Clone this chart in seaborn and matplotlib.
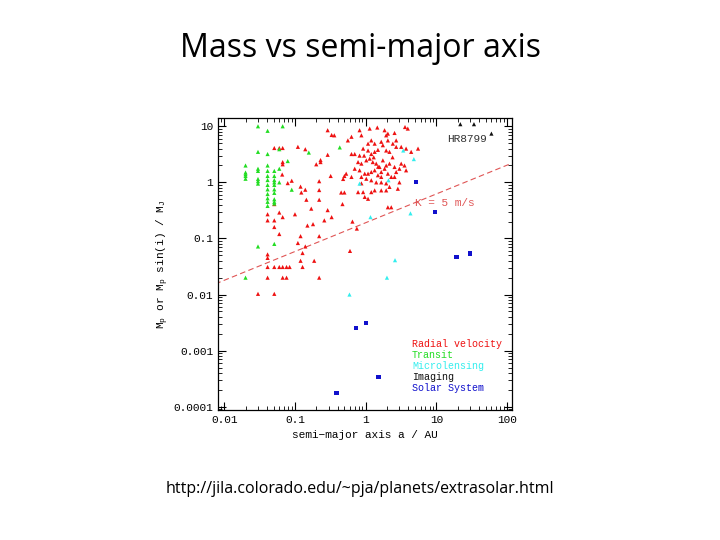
import matplotlib
matplotlib.use("Agg")
import matplotlib.pyplot as plt
import matplotlib.ticker as mticker
import seaborn as sns
import pandas as pd

# ---- data ----
rv_a = [0.030, 0.051, 0.041, 0.041, 0.041, 0.051, 0.060, 0.067, 0.076, 0.084,
        0.041, 0.067, 0.076, 0.128, 0.12, 0.128, 0.187, 0.22, 0.11, 0.14,
        0.12, 0.22, 0.060, 0.051, 0.15, 0.18, 0.26, 0.33, 0.29, 0.041,
        0.051, 0.041, 0.067, 0.10, 0.060, 0.17, 0.051, 0.22, 0.145, 0.123,
        0.12, 0.14, 0.22, 0.09, 0.079, 0.066, 0.067, 0.067, 0.051, 0.060,
        0.067, 0.11, 0.14, 0.20, 0.23, 0.23, 0.29, 0.22, 0.32, 0.48,
        0.50, 0.45, 0.50, 0.47, 0.65, 0.75, 0.60, 0.29, 0.33, 0.36,
        0.63, 0.56, 0.82, 0.87, 1.14, 1.46, 1.85, 1.95, 2.06, 2.56,
        2.70, 3.6, 3.94, 1.08, 1.20, 1.34, 1.66, 2.06, 2.42, 0.63,
        0.70, 0.82, 0.92, 1.08, 1.20, 1.34, 1.49, 1.75, 1.95, 2.17,
        2.70, 3.18, 3.73, 4.4, 5.5, 0.78, 0.87, 1.02, 1.14, 1.26,
        1.41, 1.57, 1.75, 1.95, 2.17, 2.56, 3.0, 3.18, 3.54, 3.73,
        0.70, 0.82, 0.97, 1.08, 1.20, 1.34, 1.49, 1.66, 1.85, 2.06,
        2.30, 2.70, 0.53, 0.63, 0.87, 1.02, 1.20, 1.41, 1.66, 1.95,
        2.17, 2.85, 1.66, 1.20, 0.97, 1.08, 0.92, 1.34, 1.95, 2.06,
        2.30, 0.87, 0.78, 2.56, 3.0, 1.66, 1.30, 0.95, 2.4, 1.5]
rv_m = [0.0103, 0.0103, 0.052, 0.045, 0.031, 0.031, 0.031, 0.031, 0.031, 0.031,
        0.020, 0.020, 0.020, 0.031, 0.040, 0.055, 0.040, 0.020, 0.083, 0.072,
        0.11, 0.11, 0.12, 0.16, 0.17, 0.18, 0.21, 0.24, 0.32, 0.21,
        0.21, 0.27, 0.24, 0.27, 0.29, 0.34, 0.41, 0.49, 0.49, 0.66,
        0.84, 0.74, 0.73, 1.07, 0.97, 1.38, 2.1, 2.3, 4.1, 4.1,
        4.1, 4.3, 3.9, 2.1, 2.5, 2.3, 3.1, 1.05, 1.3, 1.15,
        1.3, 0.66, 0.66, 0.41, 0.20, 0.15, 0.06, 8.5, 7.0, 6.9,
        6.5, 5.6, 8.5, 6.9, 9.1, 9.5, 8.5, 6.9, 7.4, 7.6,
        5.6, 9.7, 9.1, 4.9, 5.6, 4.9, 5.3, 5.6, 4.9, 3.2,
        3.2, 3.0, 4.0, 3.7, 3.2, 3.5, 3.8, 4.6, 3.7, 3.5,
        4.3, 4.3, 4.0, 3.5, 4.0, 2.3, 2.16, 2.47, 2.65, 2.3,
        2.16, 1.88, 2.47, 2.0, 2.16, 1.88, 1.75, 2.16, 2.0, 1.64,
        1.75, 1.64, 1.43, 1.43, 1.53, 1.64, 1.34, 1.53, 1.75, 1.43,
        1.25, 1.53, 1.43, 1.25, 1.25, 1.16, 1.09, 1.0, 1.0, 0.96,
        0.83, 0.77, 0.72, 0.67, 0.55, 0.51, 0.67, 0.72, 0.72, 0.36,
        0.36, 0.96, 0.67, 1.25, 1.0, 1.25, 2.8, 3.0, 2.8, 1.9]

tr_a = [0.020, 0.020, 0.020, 0.020, 0.020, 0.020,
        0.030, 0.030, 0.030, 0.030, 0.030, 0.030, 0.030, 0.030,
        0.041, 0.041, 0.041, 0.041, 0.041, 0.041, 0.041, 0.041, 0.041, 0.041, 0.041, 0.041,
        0.051, 0.051, 0.051, 0.051, 0.051, 0.051, 0.051, 0.051, 0.051, 0.051, 0.051,
        0.060, 0.060, 0.060, 0.067, 0.079, 0.090, 0.157, 0.43]
tr_m = [2.0, 1.5, 1.4, 1.3, 1.16, 0.02,
        10.0, 3.5, 1.75, 1.6, 1.15, 1.05, 0.95, 0.072,
        8.3, 3.2, 2.0, 1.6, 1.3, 1.1, 0.9, 0.75, 0.62, 0.52, 0.45, 0.38,
        1.6, 1.3, 1.1, 1.0, 0.9, 0.75, 0.65, 0.5, 0.45, 0.42, 0.08,
        3.9, 1.75, 1.0, 10.0, 2.4, 0.74, 3.4, 4.2]

ml_a = [0.82, 1.17, 2.1, 3.4, 4.8, 4.3, 2.6, 2.0, 0.59]
ml_m = [0.95, 0.24, 1.09, 3.7, 2.6, 0.28, 0.041, 0.020, 0.010]

im_a = [21.8, 34.0, 60.0]
im_m = [10.9, 10.9, 7.4]

ss_a = [0.387, 0.723, 1.0, 1.52, 5.2, 9.54, 19.2, 30.1]
ss_m = [1.74e-4, 2.56e-3, 3.15e-3, 3.4e-4, 1.0, 0.30, 0.046, 0.054]

kline_a = [0.0075, 107]
kline_m = [0.0155, 2.1]

methods = ["Radial velocity", "Transit", "Microlensing", "Imaging", "Solar System"]
colors = ["#ee1111", "#22dd22", "#33eeee", "#111111", "#1111cc"]

frames = []
for name, a, m in [("Radial velocity", rv_a, rv_m), ("Transit", tr_a, tr_m),
                   ("Microlensing", ml_a, ml_m), ("Imaging", im_a, im_m),
                   ("Solar System", ss_a, ss_m)]:
    frames.append(pd.DataFrame({"a": a, "m": m, "method": name}))
df = pd.concat(frames, ignore_index=True)

fig = plt.figure(figsize=(7.2, 5.4), dpi=100)
ax = fig.add_axes([0.303, 0.241, 0.408, 0.540])

sns.scatterplot(data=df, x="a", y="m", hue="method", style="method",
                hue_order=methods, style_order=methods,
                palette=dict(zip(methods, colors)),
                markers={"Radial velocity": "^", "Transit": "^", "Microlensing": "^",
                         "Imaging": "^", "Solar System": "s"},
                s=9, linewidth=0, legend=False, ax=ax, zorder=3)
sns.lineplot(x=kline_a, y=kline_m, ax=ax, color="#e05555", linestyle=(0, (5, 3)),
             linewidth=0.8, zorder=2)

ax.set_xscale("log")
ax.set_yscale("log")
ax.set_xlim(0.0082, 117)
ax.set_ylim(8.8e-5, 13.9)

mono = "Liberation Mono"
ax.xaxis.set_major_formatter(mticker.FuncFormatter(lambda v, p: f"{v:g}"))
ax.yaxis.set_major_formatter(mticker.FuncFormatter(lambda v, p: f"{v:g}"))
ax.set_xticks([0.01, 0.1, 1, 10, 100])
ax.set_yticks([0.0001, 0.001, 0.01, 0.1, 1, 10])
ax.tick_params(which="both", direction="in", top=True, right=True, labelsize=8)
ax.tick_params(which="major", length=6, width=0.8)
ax.tick_params(which="minor", length=3, width=0.6)
for lab in ax.get_xticklabels() + ax.get_yticklabels():
    lab.set_fontfamily(mono)
for s in ax.spines.values():
    s.set_linewidth(0.9)

ax.set_xlabel("semi\u2212major axis a / AU", fontfamily=mono, fontsize=8)
ax.set_ylabel(r"M$_\mathregular{p}$ or M$_\mathregular{p}$ sin(i) / M$_\mathregular{J}$",
              fontfamily=mono, fontsize=8, labelpad=2)

ax.text(0.78, 0.92, "HR8799", transform=ax.transAxes, fontfamily=mono, fontsize=8, color="#333333")
ax.text(0.67, 0.70, "K = 5 m/s", transform=ax.transAxes, fontfamily=mono, fontsize=8, color="#e05555")
for i, (name, c) in enumerate(zip(methods, colors)):
    ax.text(0.66, 0.215 - i * 0.038, name, transform=ax.transAxes,
            fontfamily=mono, fontsize=7.2, color=c)

fig.text(0.5, 0.91, "Mass vs semi-major axis", ha="center", va="center",
         fontsize=23, fontfamily="Open Sans")
fig.text(0.5, 0.095, "http://jila.colorado.edu/~pja/planets/extrasolar.html",
         ha="center", va="center", fontsize=11.5, fontfamily="Open Sans")

fig.savefig("out.png", dpi=100)
